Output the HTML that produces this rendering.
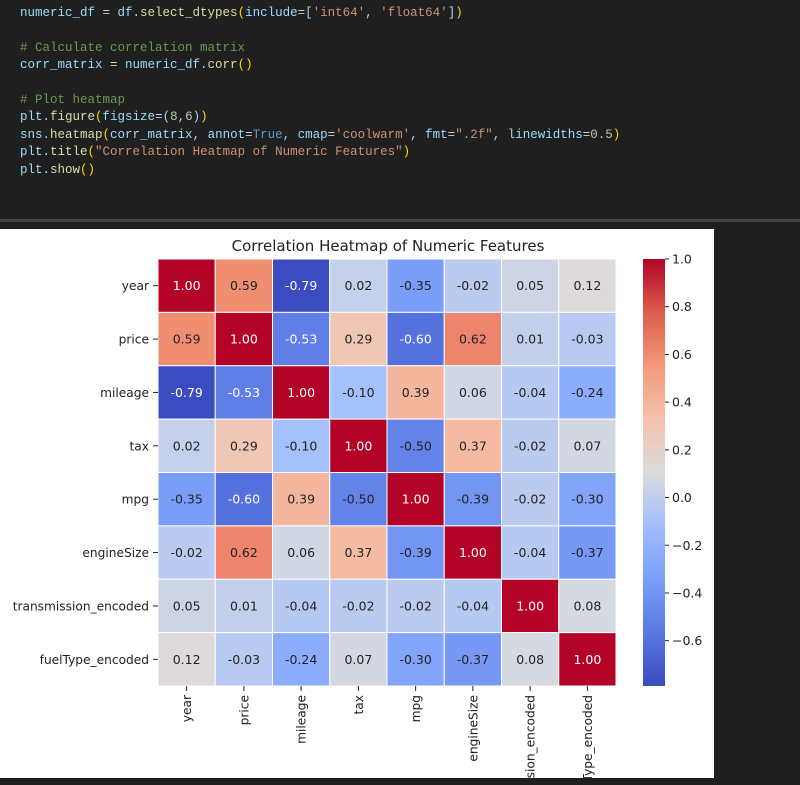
<!DOCTYPE html>
<html><head><meta charset="utf-8"><style>
html,body{margin:0;width:800px;height:785px;background:#1f1f1f;overflow:hidden;position:relative;font-family:"Liberation Sans",sans-serif}
.code{position:absolute;left:20px;top:5px;font-family:"Liberation Mono",monospace;font-size:12.5px;color:#9cdcfe;line-height:17.4px;white-space:pre}
.s{color:#ce9178}.c{color:#6a9955}.f{color:#dcdcaa}.p{color:#ffd700}.k{color:#569cd6}.w{color:#d4d4d4}.n{color:#b5cea8}
svg text{font-family:"DejaVu Sans","Liberation Sans",sans-serif}
</style></head><body>
<div class="code"><span>numeric_df <span class="w">=</span> df.<span class="f">select_dtypes</span><span class="p">(</span>include<span class="w">=</span>[<span class="s">'int64'</span>, <span class="s">'float64'</span>]<span class="p">)</span></span>

<span class="c"># Calculate correlation matrix</span>
corr_matrix <span class="w">=</span> numeric_df.<span class="f">corr</span><span class="p">()</span>

<span class="c"># Plot heatmap</span>
plt.<span class="f">figure</span><span class="p">(</span>figsize<span class="w">=</span>(<span class="n">8</span>,<span class="n">6</span>)<span class="p">)</span>
sns.<span class="f">heatmap</span><span class="p">(</span>corr_matrix, annot<span class="w">=</span><span class="k">True</span>, cmap<span class="w">=</span><span class="s">'coolwarm'</span>, fmt<span class="w">=</span><span class="s">".2f"</span>, linewidths<span class="w">=</span><span class="n">0.5</span><span class="p">)</span>
plt.<span class="f">title</span><span class="p">(</span><span class="s">"Correlation Heatmap of Numeric Features"</span><span class="p">)</span>
plt.<span class="f">show</span><span class="p">()</span></div>
<div style="position:absolute;left:0;top:219px;width:800px;height:3px;background:#444"></div>
<div style="position:absolute;left:0;top:229px;width:714px;height:549px;overflow:hidden;background:#fff">
<svg id="chart" style="display:block;overflow:hidden" width="714" height="549"></svg>
</div>
<script>
const labels=["year","price","mileage","tax","mpg","engineSize","transmission_encoded","fuelType_encoded"];
const row0=[1.00,0.59,-0.79,0.02,-0.35,-0.02,0.05,0.12];
const row1=[0.59,1.00,-0.53,0.29,-0.60,0.62,0.01,-0.03];
const row2=[-0.79,-0.53,1.00,-0.10,0.39,0.06,-0.04,-0.24];
const row3=[0.02,0.29,-0.10,1.00,-0.50,0.37,-0.02,0.07];
const row4=[-0.35,-0.60,0.39,-0.50,1.00,-0.39,-0.02,-0.30];
const row5=[-0.02,0.62,0.06,0.37,-0.39,1.00,-0.04,-0.37];
const row6=[0.05,0.01,-0.04,-0.02,-0.02,-0.04,1.00,0.08];
const row7=[0.12,-0.03,-0.24,0.07,-0.30,-0.37,0.08,1.00];
const cbTicks=[1.0,0.8,0.6,0.4,0.2,0.0,-0.2,-0.4,-0.6];
const matrix=[row0,row1,row2,row3,row4,row5,row6,row7];
const vmin=-0.79,vmax=1.0;
const NS="http://www.w3.org/2000/svg";
const svg=document.getElementById('chart');
const X0=158,Y0=30,W=458,H=427,n=labels.length,cw=W/n,ch=H/n;
const stops=[[0,58,76,192],[.125,90,120,226],[.25,123,158,248],[.375,160,190,254],[.5,220,220,221],[.625,244,194,171],[.75,244,152,122],[.875,220,93,75],[1,179,3,38]];
function cmap(v){let t=(v-vmin)/(vmax-vmin);t=Math.max(0,Math.min(1,t));
for(let i=1;i<stops.length;i++){if(t<=stops[i][0]){const a=stops[i-1],b=stops[i],u=(t-a[0])/(b[0]-a[0]);return [1,2,3].map(k=>Math.round(a[k]+(b[k]-a[k])*u));}}return stops[8].slice(1);}
function el(t,at,txt){const e=document.createElementNS(NS,t);for(const k in at)e.setAttribute(k,at[k]);if(txt!=null)e.textContent=txt;svg.appendChild(e);return e;}
const ti=el('text',{x:X0+W/2+1,y:22,'text-anchor':'middle','font-size':15,fill:'#222'},"Correlation Heatmap of Numeric Features");


const xs=i=>X0+i*cw, ys=j=>Y0+j*ch;
const cbY=v=>Y0+(vmax-v)/(vmax-vmin)*H;
matrix.forEach((row,j)=>row.forEach((v,i)=>{
 const c=cmap(v);
 const r=el('rect',{x:xs(i),y:ys(j),width:cw,height:ch,fill:`rgb(${c})`,stroke:'#fff','stroke-width':1});
 
 
 const lum=(0.2126*c[0]+0.7152*c[1]+0.0722*c[2])/255;
 const t=el('text',{x:xs(i)+cw/2,y:ys(j)+ch/2+4.5,'text-anchor':'middle','font-size':12.5,fill:lum<0.5?'#fff':'#222'},v.toFixed(2));
 
 
}));
labels.forEach((l,j)=>{
 el('line',{x1:X0-5,x2:X0,y1:ys(j)+ch/2,y2:ys(j)+ch/2,stroke:'#222'});
 const t=el('text',{x:X0-9,y:ys(j)+ch/2+4.5,'text-anchor':'end','font-size':12.2,fill:'#222'},l);
 
 
 const cx=xs(j)+cw/2;
 el('line',{x1:cx,x2:cx,y1:Y0+H,y2:Y0+H+5,stroke:'#222'});
 const tx=el('text',{x:0,y:0,'text-anchor':'end','font-size':12.2,fill:'#222',transform:`translate(${cx+4.5},${Y0+H+9}) rotate(-90)`},l);
 
 
});
const defs=el('defs',{});const g=document.createElementNS(NS,'linearGradient');g.setAttribute('id','cb');g.setAttribute('x1',0);g.setAttribute('y1',1);g.setAttribute('x2',0);g.setAttribute('y2',0);defs.appendChild(g);
stops.forEach(s=>{const st=document.createElementNS(NS,'stop');st.setAttribute('offset',s[0]);st.setAttribute('stop-color',`rgb(${s.slice(1)})`);g.appendChild(st);});
const cb=el('rect',{x:643,y:Y0,width:22,height:H,fill:'url(#cb)'});


cbTicks.forEach(v=>{const y=cbY(v);el('line',{x1:665,x2:669,y1:y,y2:y,stroke:'#222'});
 const t=el('text',{x:672,y:y+4.5,'font-size':12.5,fill:'#222'},(v<0?'\u2212':'')+Math.abs(v).toFixed(1));
 
 });
</script>
</body></html>
